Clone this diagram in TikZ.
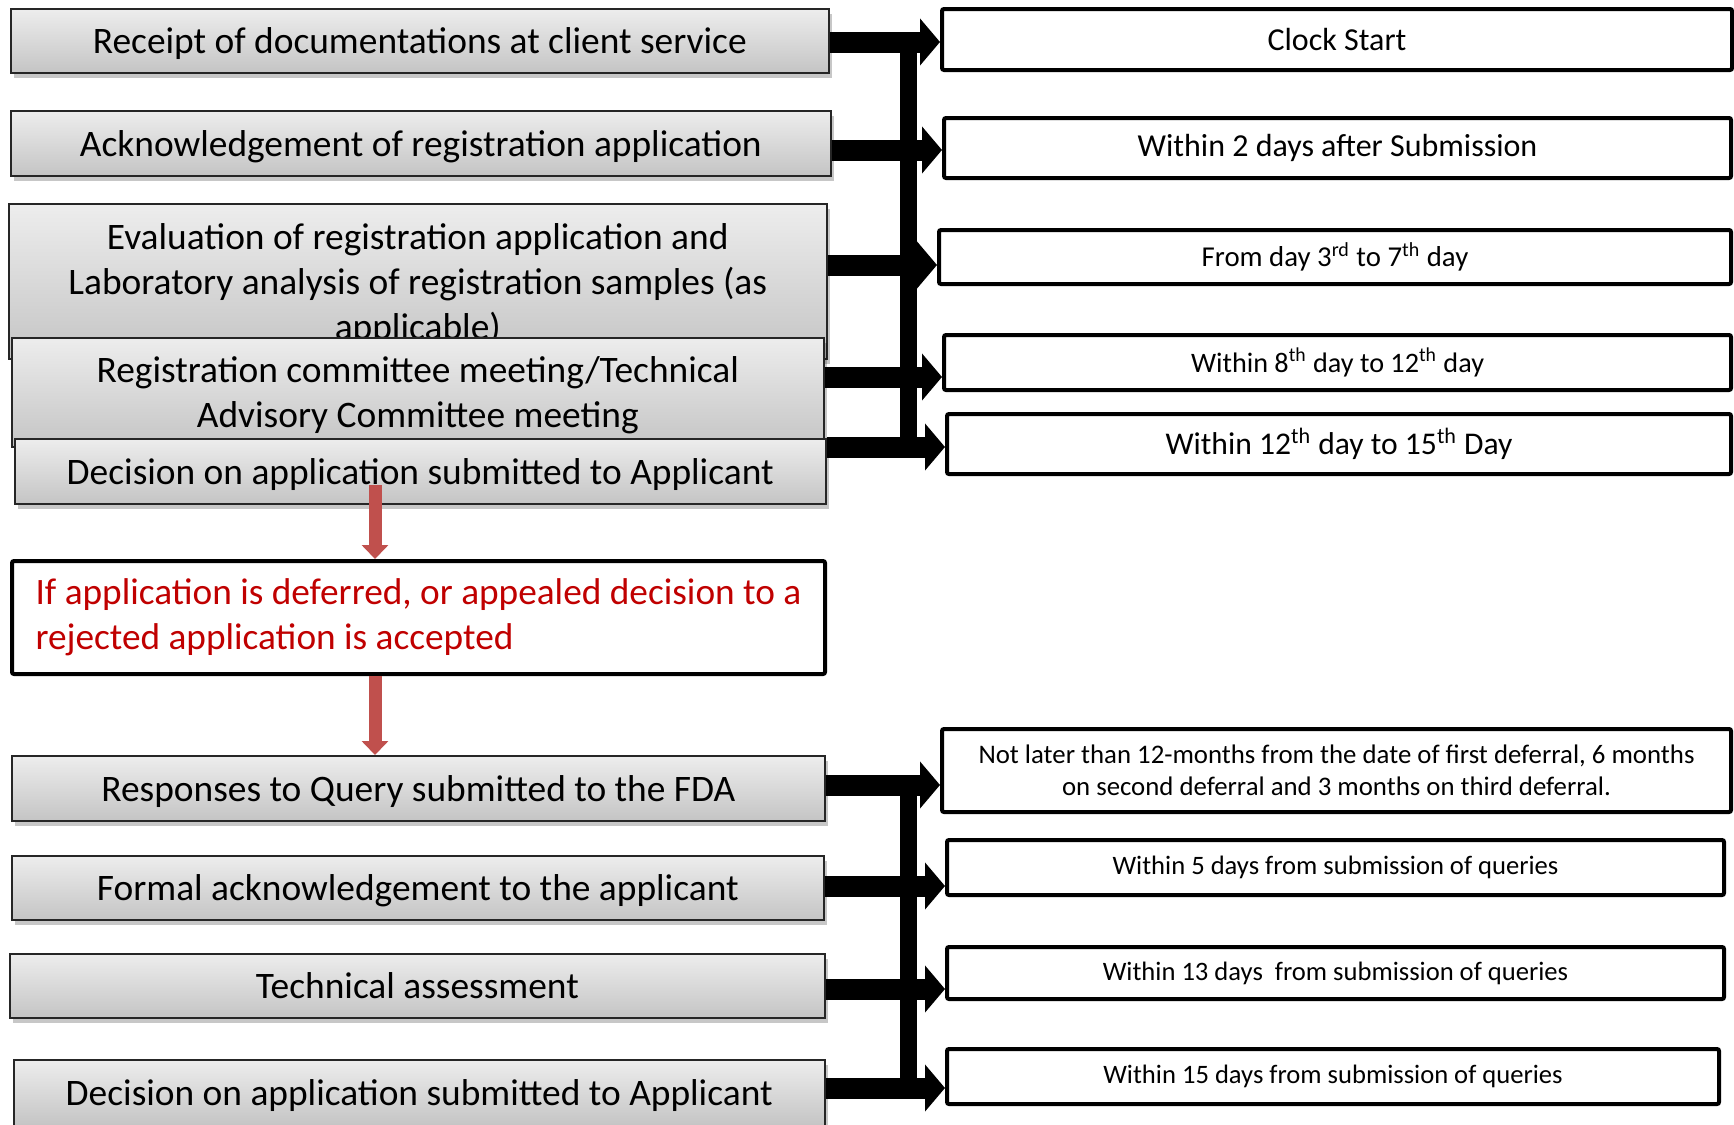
\documentclass[tikz,border=0pt]{standalone}
\usepackage{fontspec}
\setmainfont{Carlito}
\usetikzlibrary{arrows.meta,shadows,calc}
\definecolor{redarrow}{HTML}{C0504D}
\definecolor{redtext}{HTML}{C00000}
\begin{document}
\begin{tikzpicture}[x=0.5pt,y=-0.5pt,
  lbox/.style={draw=black!85, line width=0.8pt, top color=gray!14, bottom color=gray!46,
    drop shadow={shadow xshift=1.5pt, shadow yshift=-2.5pt, fill=black, opacity=0.22},
    anchor=north west, inner sep=0pt, align=center, text depth=0pt,
    font=\fontsize{18.7}{22.5}\selectfont, text=black},
  rbox/.style={draw=black, line width=2pt, fill=white, rounded corners=1pt,
    anchor=north west, inner sep=0pt, align=center},
  blk/.style={draw=black, line width=10.5pt, -{Triangle[length=10pt,width=23pt]}},
  vbar/.style={draw=black, line width=8.75pt},
  rarr/.style={draw=redarrow, line width=6.5pt, -{Triangle[length=7pt,width=13pt]}},
]
\useasboundingbox[fill=white] (0,0) rectangle (1734,1124);

% left boxes, upper group
\node[lbox, minimum width=409pt, minimum height=32pt] (b1) at (10,8) {Receipt of documentations at client service};
\node[lbox, minimum width=410pt, minimum height=32.5pt] (b2) at (10,110) {Acknowledgement of registration application};
\node[lbox, minimum width=409pt, minimum height=77.5pt] (b3) at (8,203) {Evaluation of registration application and\\Laboratory analysis of registration samples (as\\applicable)};
\node[lbox, minimum width=406pt, minimum height=54.5pt] (b4) at (11,337) {Registration committee meeting/Technical\\Advisory Committee meeting};
\node[lbox, minimum width=405.5pt, minimum height=32.5pt] (b5) at (14,438) {Decision on application submitted to Applicant};

% red condition box
\node[draw=black, line width=2pt, fill=white, rounded corners=1pt, anchor=north west,
  minimum width=406.5pt, minimum height=56.5pt, inner sep=0pt,
  align=left, text=redtext, font=\fontsize{18.65}{22.5}\selectfont]
  (red) at (10,559) {If application is deferred, or appealed decision to a\\rejected application is accepted};

% left boxes, lower group
\node[lbox, minimum width=406.5pt, minimum height=32.5pt] (b6) at (11,755) {Responses to Query submitted to the FDA};
\node[lbox, minimum width=406pt, minimum height=32pt] (b7) at (11,855) {Formal acknowledgement to the applicant};
\node[lbox, minimum width=407.5pt, minimum height=32pt] (b8) at (9,953) {Technical assessment};
\node[lbox, minimum width=405.5pt, minimum height=33pt] (b9) at (13,1059) {Decision on application submitted to Applicant};

% right boxes
\node[rbox, minimum width=395pt, minimum height=30.5pt, font=\fontsize{16}{19}\selectfont] (r1) at (940,7) {Clock Start};
\node[rbox, minimum width=393.5pt, minimum height=30pt, font=\fontsize{16}{19}\selectfont] (r2) at (942,116) {Within 2 days after Submission};
\node[rbox, minimum width=396pt, minimum height=27pt, font=\fontsize{14.4}{17}\selectfont] (r3) at (937,228) {From day 3\textsuperscript{rd} to 7\textsuperscript{th} day};
\node[rbox, minimum width=393.5pt, minimum height=27.5pt, font=\fontsize{14.1}{17}\selectfont] (r4) at (942,333) {Within 8\textsuperscript{th} day to 12\textsuperscript{th} day};
\node[rbox, minimum width=392pt, minimum height=30pt, font=\fontsize{15.8}{19}\selectfont] (r5) at (945,412) {Within 12\textsuperscript{th} day to 15\textsuperscript{th} Day};

\node[rbox, minimum width=394.5pt, minimum height=41.5pt, font=\fontsize{13.4}{16}\selectfont] (r6) at (940,727) {Not later than 12-months from the date of first deferral, 6 months\\on second deferral and 3 months on third deferral.};
\node[rbox, minimum width=388.5pt, minimum height=27.5pt, font=\fontsize{13.3}{16}\selectfont] (r7) at (945,838) {Within 5 days from submission of queries};
\node[rbox, minimum width=388.5pt, minimum height=26pt, font=\fontsize{13.3}{16}\selectfont] (r8) at (945,945) {Within 13 days\ \ from submission of queries};
\node[rbox, minimum width=386pt, minimum height=27.5pt, font=\fontsize{13.3}{16}\selectfont] (r9) at (945,1047) {Within 15 days from submission of queries};

% arrow levels
\coordinate (y1) at (0,42);
\coordinate (y2) at (0,150);
\coordinate (y3) at (0,265);
\coordinate (y4) at (0,377);
\coordinate (y5) at (0,447);
\coordinate (y6) at (0,785);
\coordinate (y7) at (0,886);
\coordinate (y8) at (0,989);
\coordinate (y9) at (0,1088);

% vertical spines
\coordinate (vt1) at (908.5,42);
\coordinate (vb1) at (908.5,447);
\coordinate (vt2) at (908.5,785);
\coordinate (vb2) at (908.5,1088);
\draw[vbar] (vt1) -- (vb1);
\draw[vbar] (vt2) -- (vb2);

% black arrows
\draw[blk] (b1.east |- y1) -- (r1.west |- y1);
\draw[blk] (b2.east |- y2) -- (r2.west |- y2);
\draw[blk] (b3.east |- y3) -- (r3.west |- y3);
\draw[blk] (b4.east |- y4) -- (r4.west |- y4);
\draw[blk] (b5.east |- y5) -- (r5.west |- y5);
\draw[blk] (b6.east |- y6) -- (r6.west |- y6);
\draw[blk] (b7.east |- y7) -- (r7.west |- y7);
\draw[blk] (b8.east |- y8) -- (r8.west |- y8);
\draw[blk] (b9.east |- y9) -- (r9.west |- y9);

% red arrows
\coordinate (ra) at (375,485);
\draw[rarr] (ra) -- (ra |- red.north);
\draw[rarr] (red.south -| ra) -- (ra |- b6.north);
\end{tikzpicture}
\end{document}
